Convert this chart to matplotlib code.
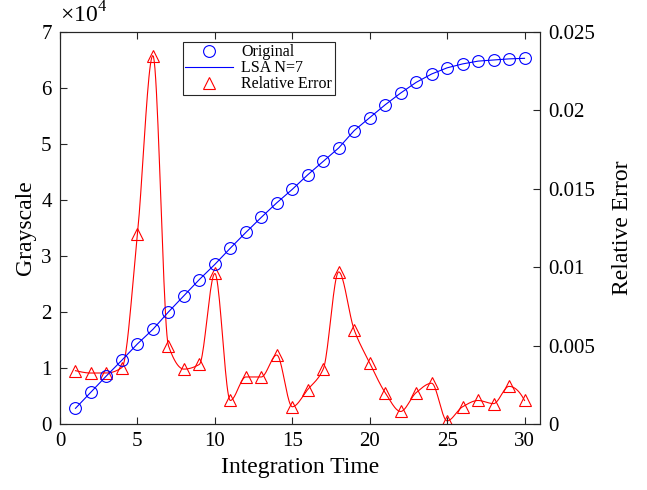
import numpy as np
import matplotlib
matplotlib.use("Agg")
import matplotlib.pyplot as plt

plt.rcParams['font.family'] = ['Liberation Serif', 'DejaVu Serif']
plt.rcParams['mathtext.fontset'] = 'custom'
plt.rcParams['mathtext.rm'] = 'Liberation Serif'

time = np.arange(1, 31)
original = np.array([0.28, 0.57, 0.86, 1.14, 1.43, 1.69, 2.00, 2.29, 2.58, 2.85,
                     3.14, 3.42, 3.69, 3.95, 4.19, 4.45, 4.69, 4.93, 5.24, 5.47,
                     5.70, 5.91, 6.10, 6.25, 6.36, 6.43, 6.48, 6.50, 6.52, 6.53]) * 1e4
rel_err = np.array([0.0034, 0.00325, 0.00325, 0.0036, 0.0121, 0.0235, 0.0050, 0.0035, 0.0038, 0.0096,
                    0.0015, 0.0030, 0.0030, 0.0044, 0.0011, 0.0022, 0.0035, 0.0097, 0.0060, 0.0039,
                    0.0020, 0.0008, 0.0020, 0.0026, 0.0002, 0.0011, 0.0015, 0.0013, 0.0024, 0.0015])


def pchip(x, y, xi):
    h = np.diff(x)
    d = np.diff(y) / h
    n = len(x)
    m = np.zeros(n)
    for k in range(1, n - 1):
        if d[k - 1] * d[k] > 0:
            w1 = 2 * h[k] + h[k - 1]
            w2 = h[k] + 2 * h[k - 1]
            m[k] = (w1 + w2) / (w1 / d[k - 1] + w2 / d[k])
    def end(h0, h1, d0, d1):
        s = ((2 * h0 + h1) * d0 - h0 * d1) / (h0 + h1)
        if np.sign(s) != np.sign(d0):
            s = 0
        elif np.sign(d0) != np.sign(d1) and abs(s) > abs(3 * d0):
            s = 3 * d0
        return s
    m[0] = end(h[0], h[1], d[0], d[1])
    m[-1] = end(h[-1], h[-2], d[-1], d[-2])
    idx = np.clip(np.searchsorted(x, xi) - 1, 0, n - 2)
    t = (xi - x[idx]) / h[idx]
    h00 = 2 * t**3 - 3 * t**2 + 1
    h10 = t**3 - 2 * t**2 + t
    h01 = -2 * t**3 + 3 * t**2
    h11 = t**3 - t**2
    return h00 * y[idx] + h10 * h[idx] * m[idx] + h01 * y[idx + 1] + h11 * h[idx] * m[idx + 1]


fig = plt.figure(figsize=(6.47, 4.9), dpi=100)
ax = fig.add_axes([60 / 647, 1 - 424 / 490, 480 / 647, 392 / 490])
ax2 = ax.twinx()

axc = '#262626'
l1, = ax.plot(time, original, 'o', color='blue', mfc='none', ms=8.5, mew=0.8, label='Original')
l2, = ax.plot(time, original, '-', color='blue', lw=0.8, label='LSA N=7')
xs = np.linspace(1, 30, 600)
ax2.plot(xs, pchip(time.astype(float), rel_err, xs), '-', color='red', lw=0.8)
l3, = ax2.plot(time, rel_err, '^', color='red', mfc='none', ms=9, mew=0.8, label='Relative Error')

ax.set_xlim(0, 31)
ax.set_ylim(0, 7e4)
ax2.set_ylim(0, 0.025)
ax.set_xticks([0, 5, 10, 15, 20, 25, 30])
ax.set_yticks(np.arange(0, 8) * 1e4)
ax.set_yticklabels([str(i) for i in range(8)])
ax2.set_yticks([0, 0.005, 0.01, 0.015, 0.02, 0.025])
ax2.set_yticklabels(['0', '0.005', '0.01', '0.015', '0.02', '0.025'])

for a in (ax, ax2):
    for s in a.spines.values():
        s.set_color(axc)
        s.set_linewidth(0.8)
ax.tick_params(axis='x', direction='in', top=True, length=5, width=0.8, colors=axc, labelsize=15, labelcolor='black', pad=6)
ax.tick_params(axis='y', direction='in', length=5, width=0.8, colors=axc, labelsize=15, labelcolor='black', pad=6)
ax2.tick_params(axis='y', direction='in', length=5, width=0.8, colors=axc, labelsize=15, labelcolor='black', pad=6)

ax.text(0.0, 1.012, r'$\times 10^4$', transform=ax.transAxes, fontsize=17, ha='left', va='bottom')

ax.set_xlabel('Integration Time', fontsize=17)
ax.set_ylabel('Grayscale', fontsize=17, labelpad=4)
ax2.set_ylabel('Relative Error', fontsize=17, labelpad=12)

leg = ax.legend(handles=[l1, l2, l3], loc='upper left', bbox_to_anchor=(123 / 480, 1 - 10 / 392),
                borderaxespad=0, fontsize=11.5, frameon=True, fancybox=False, edgecolor=axc, framealpha=1,
                handlelength=3.0, borderpad=0.15, labelspacing=0.0, handletextpad=0.5)
leg.get_frame().set_linewidth(0.8)
leg.set_zorder(10)
ax.set_zorder(ax2.get_zorder() + 1)
ax.patch.set_visible(False)

fig.savefig('out.png', dpi=100)
